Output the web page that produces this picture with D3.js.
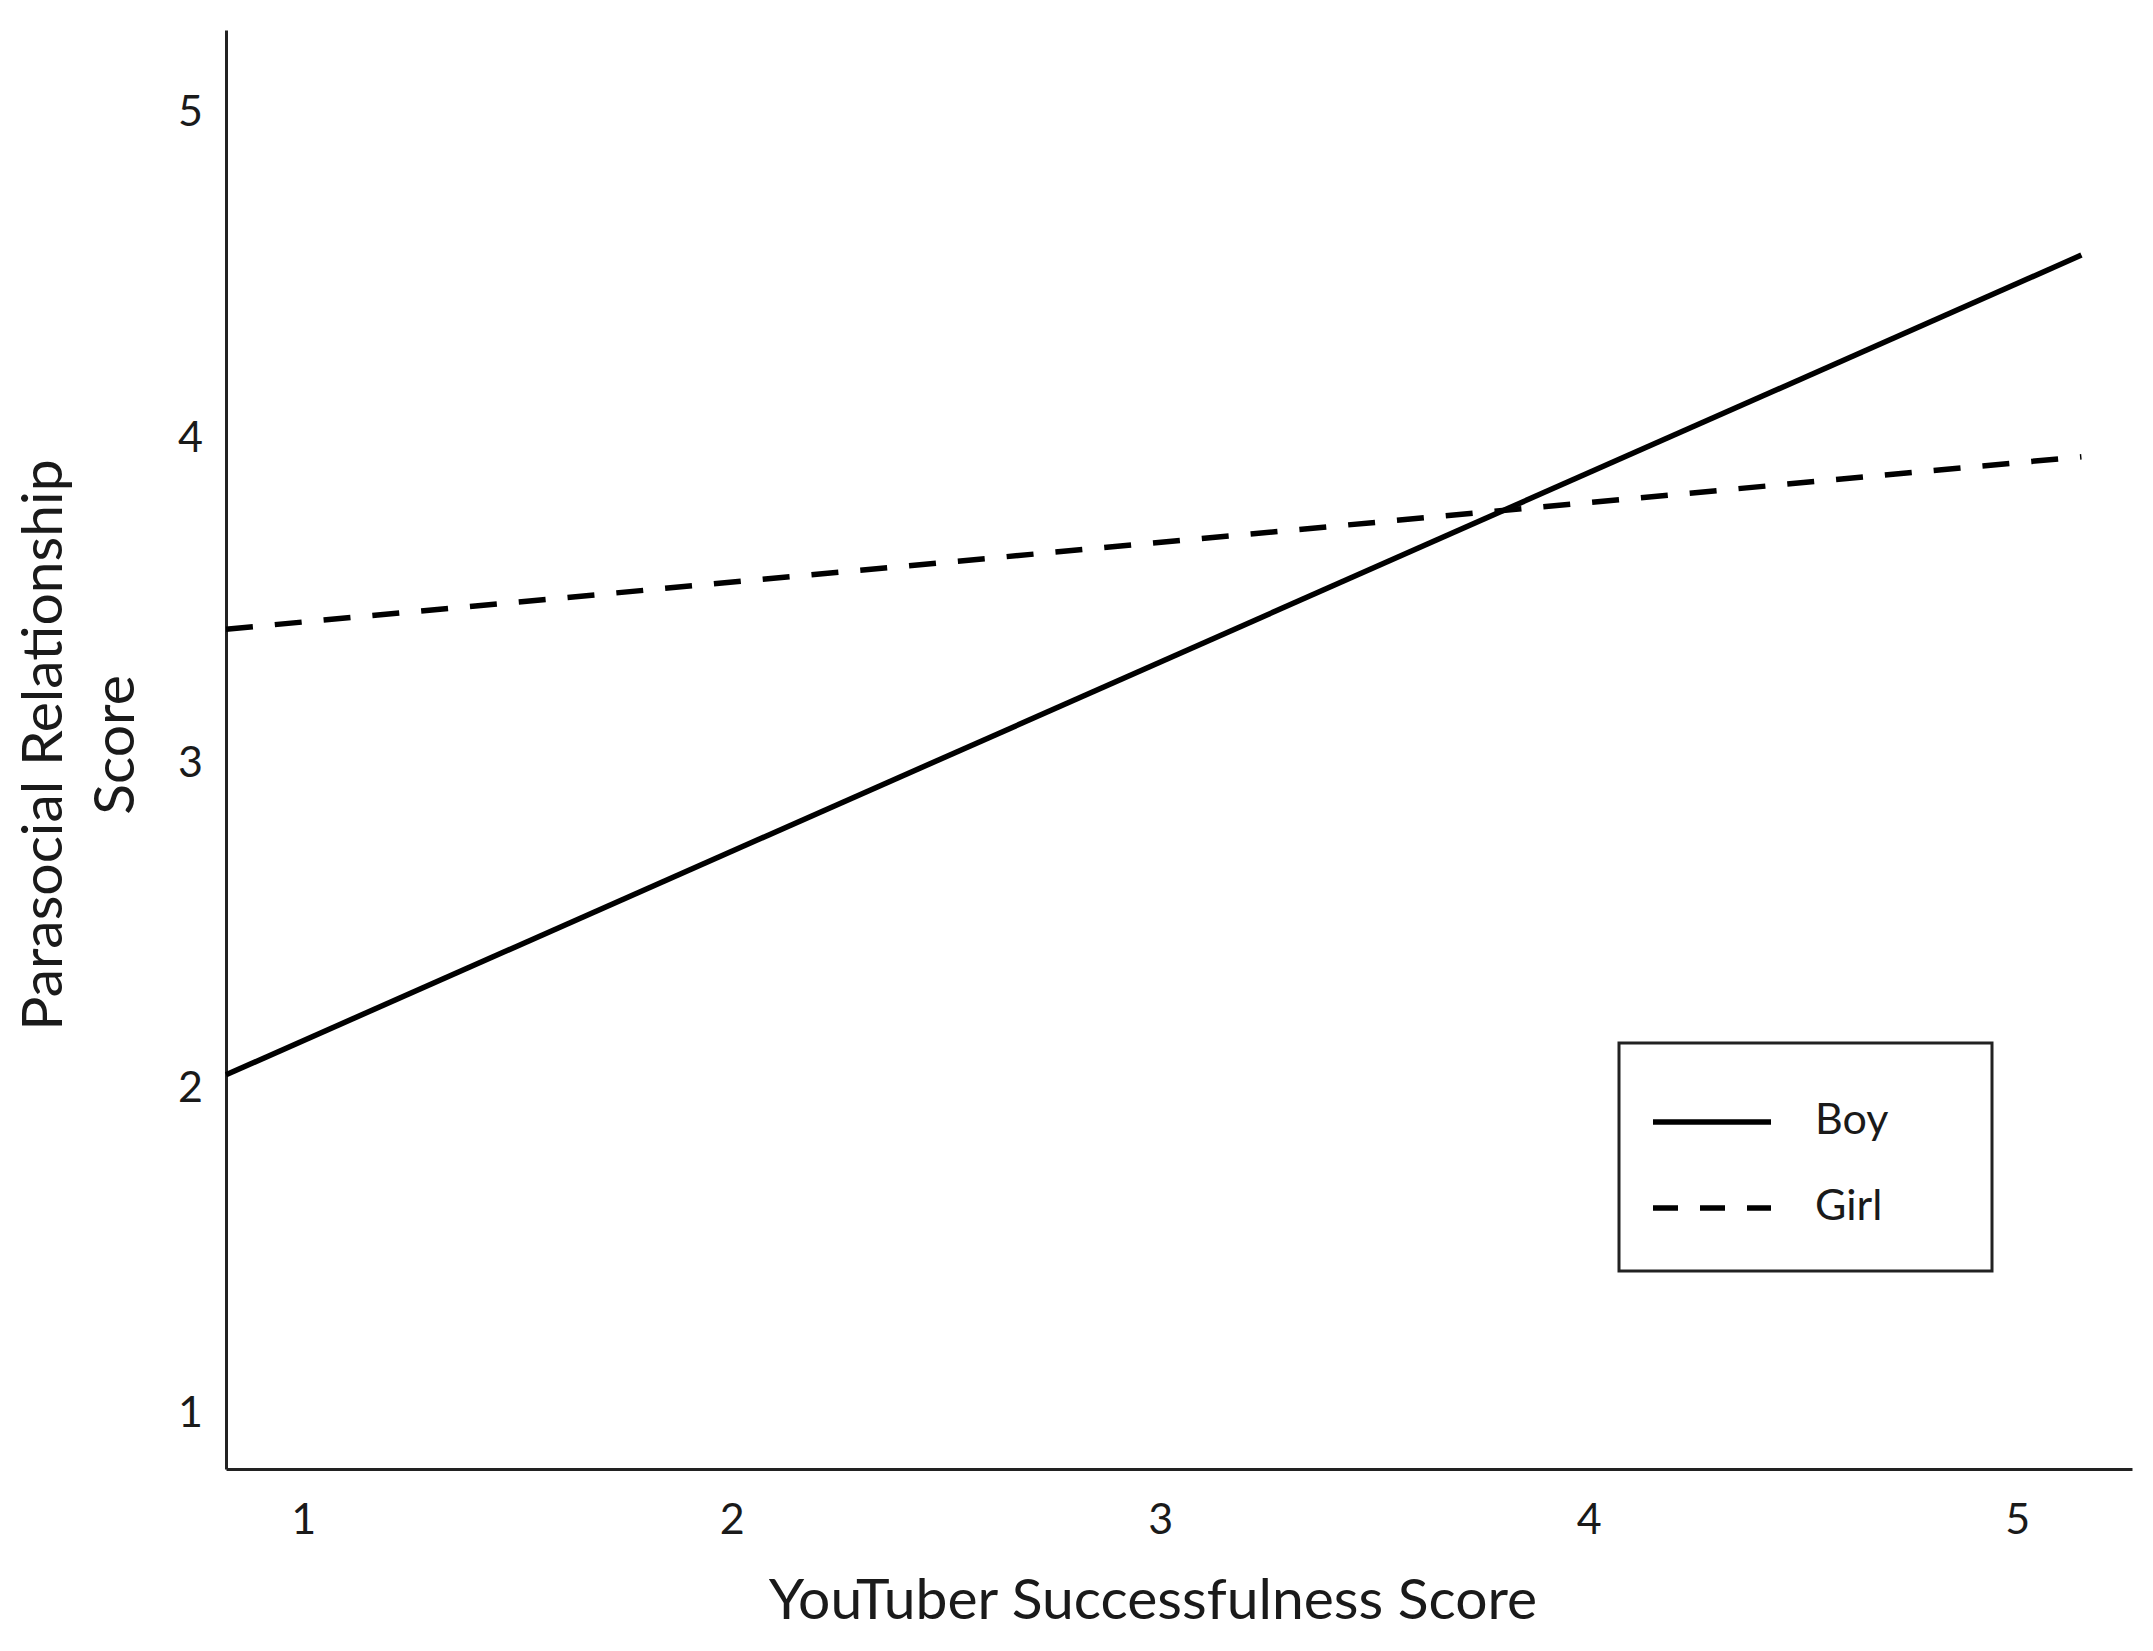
<!DOCTYPE html>
<html>
<head>
<meta charset="utf-8">
<script src="https://cdn.jsdelivr.net/npm/d3@7"></script>
<style>
  html, body { margin: 0; padding: 0; background: #fff; }
  text { font-family: Lato, "Open Sans", sans-serif; fill: #1a1a1a; }
</style>
</head>
<body>
<div id="chart"></div>
<script>
// values
var xTicks = [1, 2, 3, 4, 5];
var yTicks = [1, 2, 3, 4, 5];
var lineX = [0.82, 5.15];
var boyScores = [2.04, 4.56];
var girlScores = [3.41, 3.94];
var seriesNames = ["Boy", "Girl"];

var width = 2153;
var height = 1651;
var plotLeft = 226, plotRight = 2132, plotTop = 30, plotBottom = 1469;

var x = d3.scaleLinear()
  .domain([0.82, 5.268])
  .range([plotLeft, plotRight]);

var y = d3.scaleLinear()
  .domain([0.828, 5.252])
  .range([plotBottom, plotTop]);

var svg = d3.select("#chart")
  .append("svg")
  .attr("width", width)
  .attr("height", height)
  .attr("viewBox", "0 0 " + width + " " + height);

svg.append("rect")
  .attr("width", width)
  .attr("height", height)
  .attr("fill", "#fff");

// axes, no tick marks
var xAxis = svg.append("g")
  .attr("transform", "translate(0," + plotBottom + ")")
  .call(d3.axisBottom(x).tickValues(xTicks).tickSize(0).tickPadding(34).tickFormat(d3.format("d")));

var yAxis = svg.append("g")
  .attr("transform", "translate(" + plotLeft + ",0)")
  .call(d3.axisLeft(y).tickValues(yTicks).tickSize(0).tickPadding(23).tickFormat(d3.format("d")));

[xAxis, yAxis].forEach(function (g) {
  g.select(".domain").attr("stroke", "#222").attr("stroke-width", 3);
  g.selectAll("text")
    .style("font-family", "Lato, 'Open Sans', sans-serif")
    .style("font-size", "43px")
    .attr("fill", "#1a1a1a");
});

// lines
var line = d3.line()
  .x(function (d) { return x(d[0]); })
  .y(function (d) { return y(d[1]); });

var boy = lineX.map(function (v, i) { return [v, boyScores[i]]; });
var girl = lineX.map(function (v, i) { return [v, girlScores[i]]; });

svg.append("path")
  .datum(girl)
  .attr("d", line)
  .attr("fill", "none")
  .attr("stroke", "#000")
  .attr("stroke-width", 5.5)
  .attr("stroke-dasharray", "27,22");

svg.append("path")
  .datum(boy)
  .attr("d", line)
  .attr("fill", "none")
  .attr("stroke", "#000")
  .attr("stroke-width", 5.5);

// axis titles
svg.append("text")
  .attr("x", 1153)
  .attr("y", 1619)
  .attr("text-anchor", "middle")
  .style("font-size", "57px")
  .text("YouTuber Successfulness Score");

var yTitle = svg.append("text")
  .attr("transform", "translate(62,745) rotate(-90)")
  .attr("text-anchor", "middle")
  .style("font-size", "57px");
yTitle.append("tspan").attr("x", 0).attr("y", 0).text("Parasocial Relationship");
yTitle.append("tspan").attr("x", 0).attr("y", 72).text("Score");

// legend
var legend = svg.append("g").attr("transform", "translate(1619,1043)");
legend.append("rect")
  .attr("width", 373)
  .attr("height", 228)
  .attr("fill", "#fff")
  .attr("stroke", "#222")
  .attr("stroke-width", 3);

var rows = legend.selectAll("g.row")
  .data(seriesNames)
  .enter()
  .append("g")
  .attr("class", "row")
  .attr("transform", function (d, i) { return "translate(0," + (79 + i * 86) + ")"; });

rows.append("line")
  .attr("x1", 34)
  .attr("x2", 152)
  .attr("stroke", "#000")
  .attr("stroke-width", 5.5)
  .attr("stroke-dasharray", function (d, i) { return i == 1 ? "25,22" : null; });

rows.append("text")
  .attr("x", 196)
  .attr("dy", "0.27em")
  .style("font-size", "43px")
  .text(function (d) { return d; });
</script>
</body>
</html>
